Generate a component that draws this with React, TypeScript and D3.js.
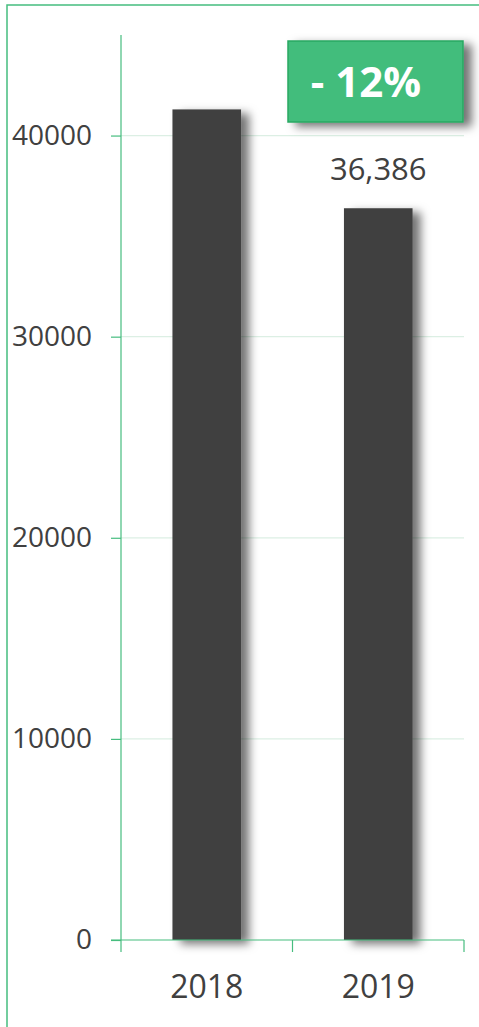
import { useEffect, useRef } from 'react'
import * as d3 from 'd3'

const years = ['2018', '2019']
const visitors = [41300, 36386]
const yTicks = [0, 10000, 20000, 30000, 40000]
const changeLabel = '- 12%'

const WIDTH = 479
const HEIGHT = 1027
const GREEN = '#46bd7f'
const TEXT = '#404040'
const FONT = "'Open Sans', 'Noto Sans', sans-serif"

export default function App() {
  const svgRef = useRef<SVGSVGElement>(null)

  useEffect(() => {
    if (!svgRef.current) return
    const svg = d3.select(svgRef.current)
    svg.selectAll('*').remove()

    const margin = { top: 35, right: 15, bottom: 87, left: 121 }
    const plotW = WIDTH - margin.left - margin.right
    const plotH = HEIGHT - margin.top - margin.bottom

    const defs = svg.append('defs')
    const shadow = defs.append('filter').attr('id', 'shadow')
      .attr('x', '-20%').attr('y', '-20%').attr('width', '160%').attr('height', '160%')
    shadow.append('feDropShadow')
      .attr('dx', 8).attr('dy', 4).attr('stdDeviation', 5)
      .attr('flood-color', '#000').attr('flood-opacity', 0.55)

    // outer frame
    svg.append('rect')
      .attr('x', 7).attr('y', 5)
      .attr('width', WIDTH + 20).attr('height', HEIGHT + 20)
      .attr('fill', 'none').attr('stroke', GREEN).attr('stroke-width', 1.5)

    const g = svg.append('g').attr('transform', `translate(${margin.left},${margin.top})`)

    const x = d3.scaleBand().domain(years).range([0, plotW]).paddingInner(0.6).paddingOuter(0.3)
    const y = d3.scaleLinear().domain([0, 45000]).range([plotH, 0])

    // gridlines
    g.selectAll('.grid')
      .data(yTicks.filter(t => t > 0))
      .enter()
      .append('line')
      .attr('x1', 0).attr('x2', plotW)
      .attr('y1', d => y(d)).attr('y2', d => y(d))
      .attr('stroke', '#dcefe4').attr('stroke-width', 1.2)

    // y axis
    const yAxis = g.append('g')
      .call(d3.axisLeft(y).tickValues(yTicks).tickSize(10).tickPadding(19).tickFormat(d => String(d)))
    yAxis.select('.domain').attr('stroke', GREEN).attr('stroke-width', 1.2).attr('d', `M0,0V${plotH}`)
    yAxis.selectAll('.tick line').attr('stroke', GREEN).attr('stroke-width', 1.2)
    yAxis.selectAll('text')
      .attr('fill', TEXT).style('font-size', '28px').style('font-family', FONT)

    // bars
    g.selectAll('.bar')
      .data(visitors)
      .enter()
      .append('rect')
      .attr('x', (_, i) => x(years[i])!)
      .attr('y', d => y(d))
      .attr('width', x.bandwidth())
      .attr('height', d => plotH - y(d))
      .attr('fill', '#404040')
      .attr('filter', 'url(#shadow)')

    // x axis
    const xAxis = g.append('g')
      .attr('transform', `translate(0,${plotH})`)
      .call(d3.axisBottom(x).tickSize(0).tickPadding(35))
    xAxis.select('.domain').remove()
    xAxis.selectAll('text')
      .attr('fill', TEXT).style('font-size', '32px').style('font-family', FONT)
    const xAxisLine = g.append('g').attr('transform', `translate(0,${plotH})`)
    xAxisLine.append('line')
      .attr('x1', -10).attr('x2', plotW).attr('stroke', GREEN).attr('stroke-width', 1.2)
    xAxisLine.selectAll('.xtick')
      .data([0, 1, 2])
      .enter()
      .append('line')
      .attr('x1', i => (i * plotW) / 2).attr('x2', i => (i * plotW) / 2)
      .attr('y1', 0).attr('y2', 12)
      .attr('stroke', GREEN).attr('stroke-width', 1.2)

    // value label on last bar
    const last = visitors.length - 1
    g.append('text')
      .attr('x', x(years[last])! + x.bandwidth() / 2)
      .attr('y', y(visitors[last]) - 28)
      .attr('text-anchor', 'middle')
      .attr('fill', TEXT)
      .style('font-size', '31px')
      .style('font-family', FONT)
      .text(d3.format(',')(visitors[last]))

    // change badge
    const badge = svg.append('g').attr('transform', 'translate(288,41)')
    badge.append('rect')
      .attr('width', 175).attr('height', 81)
      .attr('fill', '#42bd7c').attr('stroke', '#27a862').attr('stroke-width', 1.5)
      .attr('filter', 'url(#shadow)')
    badge.append('text')
      .attr('x', 78).attr('y', 56)
      .attr('text-anchor', 'middle')
      .attr('fill', '#fff')
      .style('font-size', '42px')
      .style('font-weight', 700)
      .style('font-family', FONT)
      .text(changeLabel)
  }, [])

  return (
    <div style={{ position: 'absolute', left: 0, top: 0 }}>
      <svg ref={svgRef} width={WIDTH} height={HEIGHT} style={{ display: 'block' }} />
    </div>
  )
}
